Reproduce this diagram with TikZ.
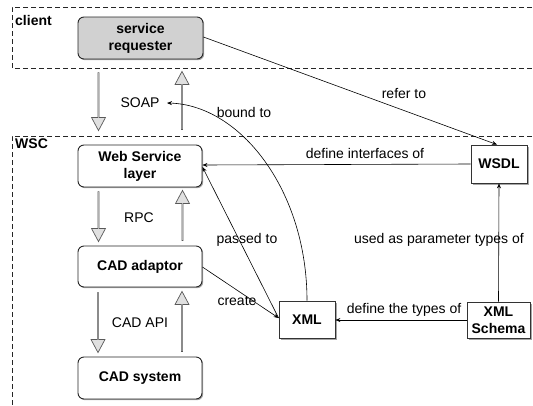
\documentclass[tikz,border=0pt]{standalone}
\usepackage{fontspec}
\setmainfont{Liberation Sans}
\usetikzlibrary{arrows.meta,shapes.arrows,shadows}

\newcommand{\basefont}{\fontsize{14}{17}\selectfont}

\tikzset{
  region/.style={draw=black!85, line width=0.8pt, dash pattern=on 5pt off 3pt},
  rbox/.style={draw=black!85, line width=0.9pt, rounded corners=6pt, fill=white,
    minimum width=124pt, minimum height=42pt, align=center, inner sep=0pt,
    font=\basefont\bfseries, drop shadow={shadow xshift=1.2pt, shadow yshift=-1.2pt, fill=black!35, opacity=1}},
  sbox/.style={draw=black!80, line width=0.8pt, fill=white, align=center, inner sep=0pt,
    font=\basefont\bfseries, drop shadow={shadow xshift=1.5pt, shadow yshift=-1.5pt, fill=black!35, opacity=1}},
  fat/.style={single arrow, draw=black!65, fill=black!12, line width=0.7pt,
    minimum width=14pt, single arrow head extend=3.5pt, single arrow tip angle=56,
    single arrow head indent=0pt, inner sep=0pt},
  conn/.style={draw=black, line width=0.6pt, -{Stealth[length=5pt,width=4pt]}},
  lbl/.style={inner sep=0pt, align=center, font=\basefont},
  title/.style={inner sep=0pt, anchor=west, font=\basefont\bfseries},
}

\begin{document}
\begin{tikzpicture}[x=1pt, y=-1pt]
  \useasboundingbox (0,0) rectangle (533,405);

  % dashed regions
  \draw[region] (540,7) -- (12,7) -- (12,68) -- (540,68);
  \draw[region] (540,136) -- (12,136) -- (12,410);
  \node[title] (lclient) at (15,20) {client};
  \node[title] (lwsc) at (15,144) {WSC};

  % component stack
  \node[rbox, fill=black!18, minimum width=125pt] (req) at (140.5,38) {service\\requester};
  \node[rbox] (wsl) at (140,166) {Web Service\\layer};
  \node[rbox, minimum height=41pt] (cada) at (140,266.5) {CAD adaptor};
  \node[rbox] (cads) at (140,378) {CAD system};

  % protocol arrows between layers
  \node[fat, rotate=-90, minimum height=58pt] (d1) at (98.5,101) {};
  \node[fat, rotate=90, minimum height=58pt] (u1) at (182,101) {};
  \node[fat, rotate=-90, minimum height=50pt] (d2) at (98.5,216) {};
  \node[fat, rotate=90, minimum height=50pt] (u2) at (182.5,216) {};
  \node[fat, rotate=-90, minimum height=60pt] (d3) at (98,322) {};
  \node[fat, rotate=90, minimum height=60pt] (u3) at (182,322) {};
  \node[lbl] (soap) at (140,103) {SOAP};
  \node[lbl] (rpc) at (139,218) {RPC};
  \node[lbl] (capi) at (140,323) {CAD API};

  % documents
  \node[sbox, minimum width=56pt, minimum height=38pt] (wsdl) at (499,164) {WSDL};
  \node[sbox, minimum width=56pt, minimum height=37pt] (xml) at (307,319.5) {XML};
  \node[sbox, minimum width=63pt, minimum height=36pt] (xmls) at (498.5,320) {XML\\Schema};

  % relations
  \coordinate (soapend) at (167,103);
  \draw[conn] (req.east |- 0,37) -- (wsdl.north -| 497,0);
  \draw[conn] (wsdl.west |- 0,164) -- (wsl.east |- 0,165);
  \draw[conn] (xml.west |- 0,318) -- (wsl.east |- 0,167);
  \draw[conn] (cada.east |- 0,267) -- (xml.west |- 0,318);
  \draw[conn] (xml.north) .. controls (307,190) and (240,105) .. (soapend);
  \draw[conn] (xmls.west |- 0,320) -- (xml.east |- 0,320);
  \draw[conn] (xmls.north) -- (wsdl.south);

  % relation labels
  \node[lbl] (trefer) at (404,93) {refer to};
  \node[lbl] (tbound) at (244,112) {bound to};
  \node[lbl] (tdefif) at (365,153) {define interfaces of};
  \node[lbl] (tpassed) at (247,240) {passed to};
  \node[lbl] (tused) at (439,240) {used as parameter types of};
  \node[lbl] (tcreate) at (237,301) {create};
  \node[lbl] (tdeft) at (404,310) {define the types of};
\end{tikzpicture}
\end{document}
